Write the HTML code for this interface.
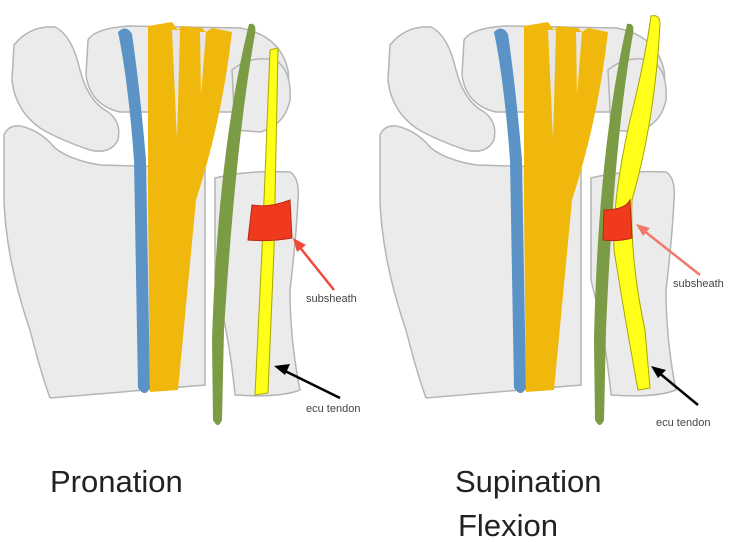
<!DOCTYPE html>
<html><head><meta charset="utf-8"><style>
html,body{margin:0;padding:0;background:#fff;width:748px;height:542px;overflow:hidden}
</style></head><body>
<svg width="748" height="542" viewBox="0 0 748 542" xmlns="http://www.w3.org/2000/svg">
<defs>
<g id="bones">
 <path d="M88,40 Q95,28 130,26 L240,28 Q280,35 288,70 Q292,100 270,112 L120,112 Q90,105 86,75 Z" fill="#ebebeb" stroke="#b5b5b5" stroke-width="1.5"/>
 <path d="M232,70 Q250,55 275,60 Q292,70 290,100 Q285,125 260,132 L235,130 Z" fill="#ebebeb" stroke="#b5b5b5" stroke-width="1.5"/>
 <path d="M14,45 Q30,25 55,27 Q72,35 80,70 Q88,100 105,110 Q122,120 118,140 Q110,155 90,150 Q60,140 40,128 Q15,110 12,80 Z" fill="#ebebeb" stroke="#b5b5b5" stroke-width="1.5"/>
 <path d="M4,135 Q8,125 20,126 Q40,130 55,148 Q70,160 100,165 L205,168 L205,385 L50,398 Q40,370 30,330 Q6,260 4,200 Z" fill="#ebebeb" stroke="#b5b5b5" stroke-width="1.5"/>
 <path d="M215,178 Q245,170 290,172 Q300,178 298,200 Q296,240 290,290 Q290,340 300,390 Q280,398 235,395 Q230,340 215,280 Z" fill="#ebebeb" stroke="#b5b5b5" stroke-width="1.5"/>
</g>
<g id="common">
 <path d="M118,32 Q126,24 132,34 Q140,90 146,160 L150,388 Q145,398 138,388 L134,160 Q128,80 118,32 Z" fill="#5b93c7"/>
 <path d="M148,26 L172,22 L178,30 L182,26 L202,28 L206,32 L212,28 L232,32 Q222,120 196,200 L178,390 L150,392 L148,200 Z" fill="#f0b70d"/>
 <path d="M172,30 L180,30 L177,140 Z" fill="#e6e6e6"/>
 <path d="M200,32 L206,32 L201,95 Z" fill="#e6e6e6"/>
</g>
</defs>

<!-- LEFT PANEL -->
<use href="#bones"/>
<use href="#common"/>
<path d="M249,24 Q257,22 255,34 Q236,140 224,330 L222,420 Q218,430 213,420 L212,340 Q218,150 249,24 Z" fill="#7b9c45"/>
<path d="M270,50 L278,48 L274,250 L268,393 L255,395 L262,250 Z" fill="#ffff1a" stroke="#a8a800" stroke-width="1"/>
<path d="M252,205 Q270,208 290,200 L292,238 Q270,242 248,240 Z" fill="#f03a1e" stroke="#b82810" stroke-width="1"/>
<line x1="334" y1="290" x2="298" y2="245" stroke="#f04a3a" stroke-width="2.5"/>
<polygon points="293,238 306,245 297,252" fill="#f04a3a"/>
<line x1="340" y1="398" x2="283" y2="370" stroke="#000" stroke-width="2.5"/>
<polygon points="274,366 290,364 285,375" fill="#000"/>
<text x="306" y="302" font-family="Liberation Sans, sans-serif" font-size="11" fill="#444">subsheath</text>
<text x="306" y="412" font-family="Liberation Sans, sans-serif" font-size="11" fill="#444">ecu tendon</text>
<text x="50" y="492" font-family="Liberation Sans, sans-serif" font-size="31" fill="#222">Pronation</text>

<!-- RIGHT PANEL -->
<g transform="translate(376,0)">
<use href="#bones"/>
<use href="#common"/>
</g>
<path d="M627,24 Q635,22 633,34 Q614,140 606,330 L604,420 Q600,430 595,420 L594,340 Q598,150 627,24 Z" fill="#7b9c45"/>
<path d="M651,16 Q660,14 660,24 Q655,120 632,200 Q630,260 645,330 L650,388 L638,390 Q625,320 614,250 Q612,200 630,120 Q645,60 651,16 Z" fill="#ffff1a" stroke="#a8a800" stroke-width="1"/>
<path d="M604,210 Q625,210 630,200 L632,238 Q618,242 603,240 Z" fill="#f03a1e" stroke="#b82810" stroke-width="1"/>
<line x1="700" y1="275" x2="643" y2="230" stroke="#f07a6a" stroke-width="2.5"/>
<polygon points="636,224 650,228 643,236" fill="#f07a6a"/>
<line x1="698" y1="405" x2="658" y2="372" stroke="#000" stroke-width="2.5"/>
<polygon points="651,366 666,370 658,378" fill="#000"/>
<text x="673" y="287" font-family="Liberation Sans, sans-serif" font-size="11" fill="#444">subsheath</text>
<text x="656" y="426" font-family="Liberation Sans, sans-serif" font-size="11" fill="#444">ecu tendon</text>
<text x="455" y="492" font-family="Liberation Sans, sans-serif" font-size="31" fill="#222">Supination</text>
<text x="458" y="536" font-family="Liberation Sans, sans-serif" font-size="31" fill="#222">Flexion</text>
</svg>
</body></html>
